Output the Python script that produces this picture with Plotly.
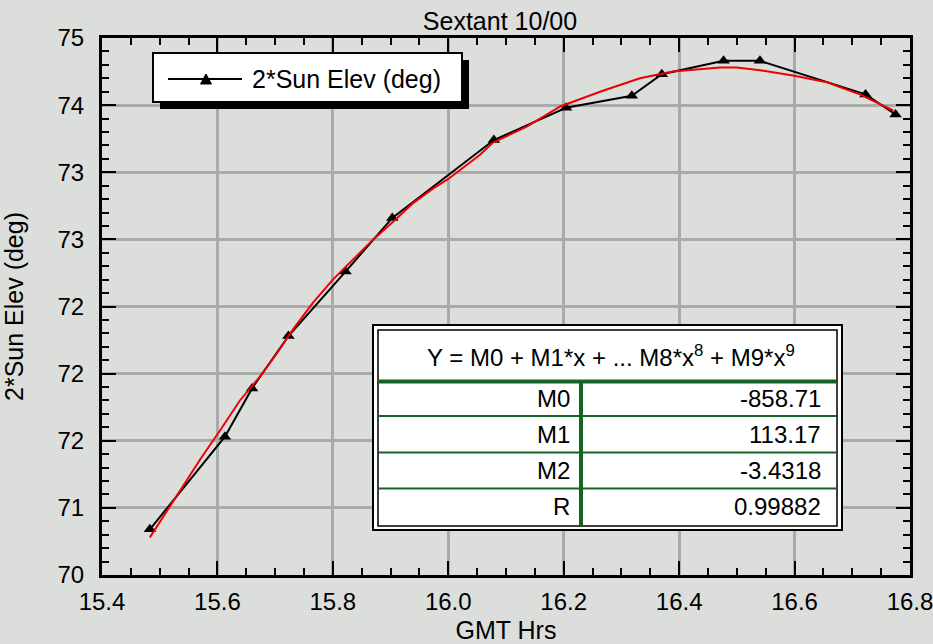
import plotly.graph_objects as go

# ---- data ----
gmt_hrs = [15.483, 15.613, 15.660, 15.723, 15.822, 15.903, 16.079, 16.204,
           16.318, 16.370, 16.477, 16.540, 16.723, 16.775]
sun_elev2 = [70.84, 71.53, 71.89, 72.28, 72.76, 73.16, 73.74, 73.98,
             74.07, 74.23, 74.33, 74.33, 74.08, 73.93]

fit_x = [15.483, 15.535, 15.570, 15.605, 15.639, 15.674, 15.703, 15.731,
         15.766, 15.800, 15.835, 15.870, 15.904, 15.939, 15.974, 16.000,
         16.055, 16.077, 16.136, 16.194, 16.263, 16.332, 16.389, 16.471,
         16.500, 16.540, 16.597, 16.656, 16.713, 16.771]
fit_y = [70.78, 71.13, 71.36, 71.58, 71.80, 71.98, 72.15, 72.33,
         72.53, 72.70, 72.85, 73.00, 73.13, 73.27, 73.38, 73.45,
         73.63, 73.72, 73.84, 73.99, 74.10, 74.20, 74.25, 74.28,
         74.28, 74.26, 74.22, 74.17, 74.08, 73.96]

x_tick_vals = [15.4, 15.6, 15.8, 16.0, 16.2, 16.4, 16.6, 16.8]
y_tick_vals = [70.5, 71.0, 71.5, 72.0, 72.5, 73.0, 73.5, 74.0, 74.5]
y_tick_text = ["70", "71", "72", "72", "72", "73", "73", "74", "75"]

fit_rows = ["M0", "M1", "M2", "R"]
fit_vals = ["-858.71", "113.17", "-3.4318", "0.99882"]
fit_header = "Y = M0 + M1*x + ... M8*x<sup>8</sup> + M9*x<sup>9</sup>"
series_name = "2*Sun Elev (deg)"

# ---- layout geometry (pixels) ----
W_, H_ = 933, 644
L, R, T, B = 102, 910, 38, 575
PW, PH = R - L, B - T


def X(px):
    return (px - L) / PW


def Y(py):
    return (B - py) / PH


FONT = "Liberation Sans, Arial, Helvetica, sans-serif"
BG = "rgb(220,222,220)"
GREEN = "rgb(22,100,36)"

fig = go.Figure()
fig.add_trace(go.Scatter(
    x=gmt_hrs, y=sun_elev2, mode="lines+markers", name=series_name,
    line=dict(color="black", width=2),
    marker=dict(symbol="triangle-up", size=11, color="black"),
    showlegend=False))
fig.add_trace(go.Scatter(
    x=fit_x, y=fit_y, mode="lines", name="fit",
    line=dict(color="rgb(240,0,0)", width=2), showlegend=False))

shapes = []
# legend box with drop shadow
shapes.append(dict(type="rect", xref="paper", yref="paper", layer="above",
                   x0=X(160), x1=X(469), y0=Y(109), y1=Y(60),
                   fillcolor="black", line=dict(width=0)))
shapes.append(dict(type="rect", xref="paper", yref="paper", layer="above",
                   x0=X(153), x1=X(462), y0=Y(102), y1=Y(53),
                   fillcolor="white", line=dict(color="black", width=2)))
shapes.append(dict(type="line", xref="paper", yref="paper", layer="above",
                   x0=X(168), x1=X(242), y0=Y(79), y1=Y(79),
                   line=dict(color="black", width=2)))
shapes.append(dict(type="path", xref="paper", yref="paper", layer="above",
                   path="M %f,%f L %f,%f L %f,%f Z" % (X(200.5), Y(84), X(211.5), Y(84), X(206), Y(74)),
                   fillcolor="black", line=dict(color="black", width=1)))

# fit table
shapes.append(dict(type="rect", xref="paper", yref="paper", layer="above",
                   x0=X(373), x1=X(842), y0=Y(530), y1=Y(325),
                   fillcolor="white", line=dict(color="black", width=2)))
shapes.append(dict(type="rect", xref="paper", yref="paper", layer="above",
                   x0=X(378), x1=X(837), y0=Y(526), y1=Y(330),
                   fillcolor="white", line=dict(color="black", width=1.5)))
shapes.append(dict(type="line", xref="paper", yref="paper", layer="above",
                   x0=X(379), x1=X(836), y0=Y(381.5), y1=Y(381.5),
                   line=dict(color=GREEN, width=4)))
for yy in [416, 452.5, 488.5]:
    shapes.append(dict(type="line", xref="paper", yref="paper", layer="above",
                       x0=X(379), x1=X(836), y0=Y(yy), y1=Y(yy),
                       line=dict(color=GREEN, width=2)))
shapes.append(dict(type="line", xref="paper", yref="paper", layer="above",
                   x0=X(581), x1=X(581), y0=Y(382), y1=Y(525.5),
                   line=dict(color=GREEN, width=4)))

annotations = []
annotations.append(dict(xref="paper", yref="paper", x=X(250), y=Y(79),
                        xanchor="left", yanchor="middle", showarrow=False,
                        text=series_name, font=dict(size=25, color="black", family=FONT)))
annotations.append(dict(xref="paper", yref="paper", x=X(611), y=Y(356),
                        xanchor="center", yanchor="middle", showarrow=False,
                        text=fit_header, font=dict(size=24, color="black", family=FONT)))
row_centers = [398, 434, 470, 506]
for name, val, yc in zip(fit_rows, fit_vals, row_centers):
    annotations.append(dict(xref="paper", yref="paper", x=X(572), y=Y(yc),
                            xanchor="right", yanchor="middle", showarrow=False,
                            text=name, font=dict(size=24, color="black", family=FONT)))
    annotations.append(dict(xref="paper", yref="paper", x=X(823), y=Y(yc),
                            xanchor="right", yanchor="middle", showarrow=False,
                            text=val, font=dict(size=24, color="black", family=FONT)))

axis_common = dict(
    showline=True, linecolor="black", linewidth=3, mirror="ticks",
    ticks="inside", ticklen=14, tickwidth=2, tickcolor="black",
    showgrid=True, gridcolor="rgb(170,170,170)", gridwidth=2.5,
    zeroline=False, automargin=False, ticklabeloverflow="allow",
    tickfont=dict(size=24, color="black", family=FONT),
)

fig.update_layout(
    width=W_, height=H_,
    margin=dict(l=L, r=W_ - R, t=T, b=H_ - B, pad=0, autoexpand=False),
    paper_bgcolor=BG, plot_bgcolor=BG,
    font=dict(family=FONT, color="black"),
    title=dict(text="Sextant 10/00", x=500 / W_, xanchor="center",
               y=1 - 21 / H_, yanchor="middle",
               font=dict(size=25, color="black", family=FONT)),
    xaxis=dict(range=[15.4, 16.80001], tickvals=x_tick_vals, tickformat=".1f",
               ticklabelstandoff=3,
               minor=dict(dtick=0.05, tick0=15.4, ticks="inside", ticklen=7,
                          tickwidth=2, tickcolor="black", showgrid=False),
               title=dict(text="GMT Hrs", font=dict(size=25, color="black", family=FONT),
                          standoff=15),
               **axis_common),
    yaxis=dict(range=[70.5, 74.50001], tickvals=y_tick_vals, ticktext=y_tick_text,
               ticklabelstandoff=10,
               minor=dict(dtick=0.1, tick0=70.5, ticks="inside", ticklen=7,
                          tickwidth=2, tickcolor="black", showgrid=False),
               title=dict(text="2*Sun Elev (deg)", font=dict(size=25, color="black", family=FONT),
                          standoff=28),
               **axis_common),
    shapes=shapes, annotations=annotations,
)

fig.write_html("out.html", config={"displayModeBar": False},
               post_script="document.body.style.margin='0px';")
